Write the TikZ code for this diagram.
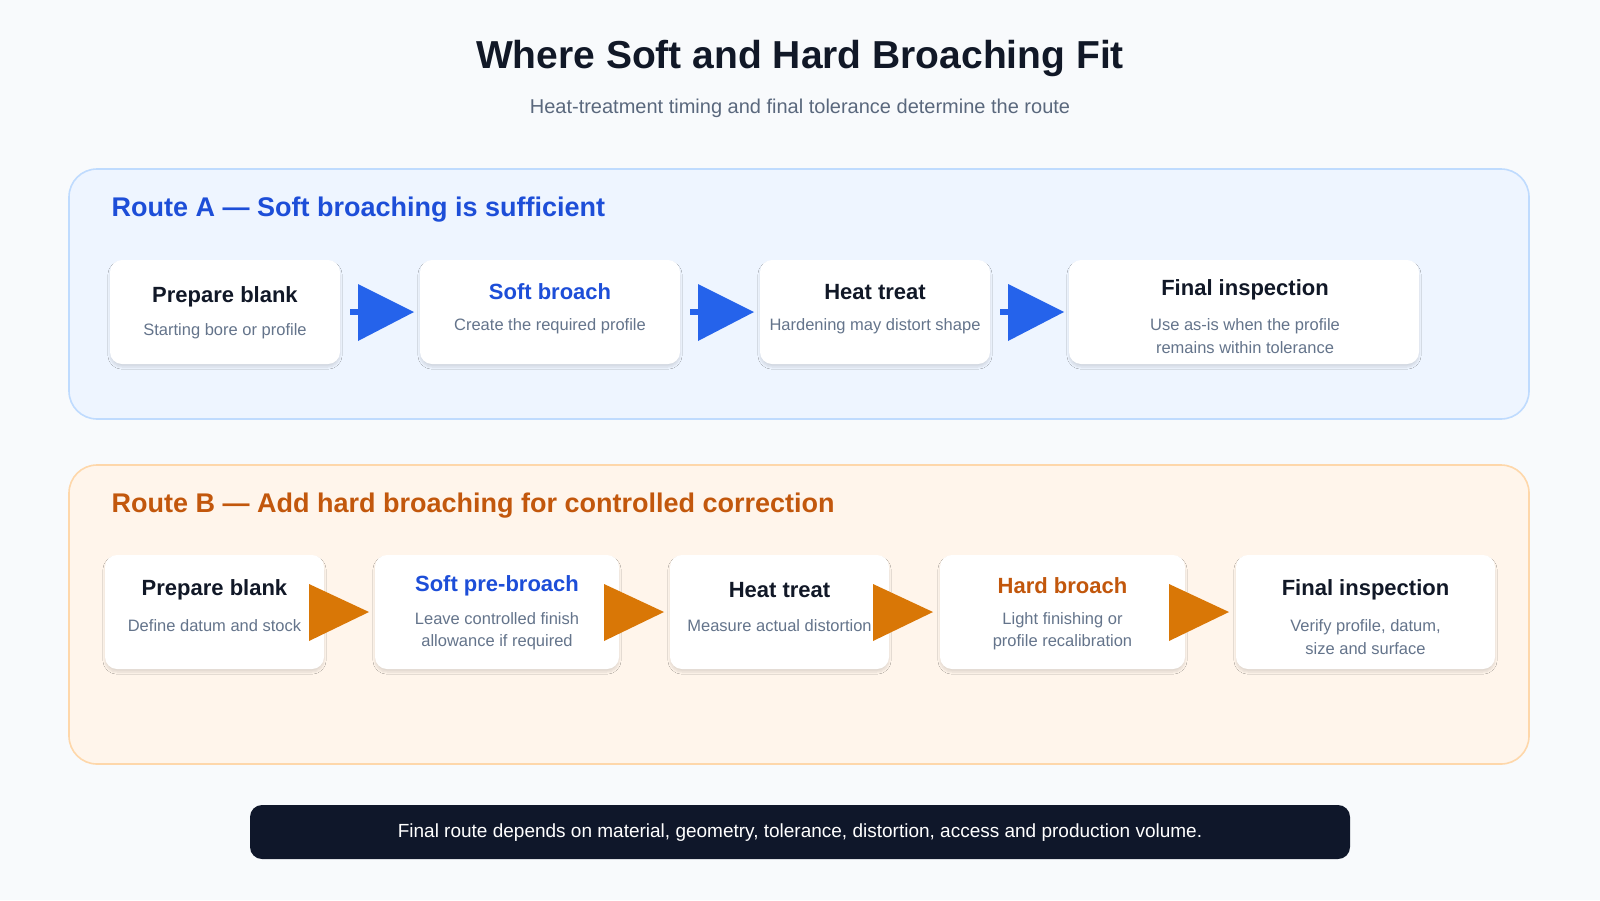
\documentclass[tikz,border=0pt]{standalone}
\usepackage{fontspec}
\setmainfont{Liberation Sans}
\usetikzlibrary{shadows.blur}
\definecolor{bg}{HTML}{F8FAFC}
\definecolor{ink}{HTML}{111827}
\definecolor{sub}{HTML}{64748B}
\definecolor{blu}{HTML}{1D4ED8}
\definecolor{bluA}{HTML}{2563EB}
\definecolor{bfill}{HTML}{EEF5FF}
\definecolor{bline}{HTML}{BFDBFE}
\definecolor{org}{HTML}{C2570C}
\definecolor{orgA}{HTML}{D97706}
\definecolor{ofill}{HTML}{FFF5EB}
\definecolor{oline}{HTML}{FED7AA}
\definecolor{dark}{HTML}{0F172A}
\tikzset{
 card/.style={fill=white,rounded corners=12,blur shadow={shadow blur steps=8,shadow xshift=0pt,shadow yshift=-3pt,shadow opacity=12}},
 ctitle/.style={font=\fontsize{22}{26}\selectfont\bfseries,text=ink},
 csub/.style={font=\fontsize{16.5}{22.5}\selectfont,text=sub,align=center},
 frame/.style={rounded corners=28,line width=1.6pt},
}
\newcommand{\card}[6]{\path[card] (#2) rectangle (#3);}
\begin{document}
\begin{tikzpicture}[x=1pt,y=-1pt]
\fill[bg] (0,0) rectangle (1600,900);
\node[font=\fontsize{39}{44}\selectfont\bfseries,text=ink] (title) at (800,58) {Where Soft and Hard Broaching Fit};
\node[font=\fontsize{20}{24}\selectfont,text=sub!90!black] (subt) at (800,108) {Heat-treatment timing and final tolerance determine the route};
% Route A
\path[frame,fill=bfill,draw=bline] (69,169) rectangle (1529,419);
\node[anchor=west,font=\fontsize{27}{32}\selectfont\bfseries,text=blu] (ta) at (108,210) {Route A — Soft broaching is sufficient};
\path[card] (110,260) rectangle (340,364);
\path[card] (420,260) rectangle (680,364);
\path[card] (760,260) rectangle (990,364);
\path[card] (1069,260) rectangle (1419,364);
\node[ctitle] (a1t) at (225,297) {Prepare blank};
\node[csub] (a1s) at (225,331) {Starting bore or profile};
\node[ctitle,text=blu] (a2t) at (550,292) {Soft broach};
\node[csub] (a2s) at (550,326) {Create the required profile};
\node[ctitle] (a3t) at (875,292) {Heat treat};
\node[csub] (a3s) at (875,326) {Hardening may distort shape};
\node[ctitle] (a4t) at (1245,290) {Final inspection};
\node[csub] (a4s) at (1245,336) {Use as-is when the profile\\remains within tolerance};
\foreach \x in {352,692,1002}{
 \fill[bluA] (\x-2,309) rectangle (\x+6,315);
 \fill[bluA] (\x+6,284) -- (\x+62,312) -- (\x+6,341) -- cycle;}
% Route B
\path[frame,fill=ofill,draw=oline] (69,465) rectangle (1529,764);
\node[anchor=west,font=\fontsize{27}{32}\selectfont\bfseries,text=org] (tb) at (108,506) {Route B — Add hard broaching for controlled correction};
\path[card] (105,555) rectangle (324,669);
\path[card] (375,555) rectangle (619,669);
\path[card] (670,555) rectangle (889,669);
\path[card] (940,555) rectangle (1185,669);
\path[card] (1236,555) rectangle (1495,669);
\node[ctitle] (b1t) at (214.5,590) {Prepare blank};
\node[csub] (b1s) at (214.5,626) {Define datum and stock};
\node[ctitle,text=blu] (b2t) at (497,586) {Soft pre-broach};
\node[csub] (b2s) at (497,631) {Leave controlled finish\\allowance if required};
\node[ctitle] (b3t) at (779.5,590) {Heat treat};
\node[csub] (b3s) at (779.5,626) {Measure actual distortion};
\node[ctitle,text=org] (b4t) at (1062.5,586) {Hard broach};
\node[csub] (b4s) at (1062.5,631) {Light finishing or\\profile recalibration};
\node[ctitle] (b5t) at (1365.5,590) {Final inspection};
\node[csub] (b5s) at (1365.5,637) {Verify profile, datum,\\size and surface};
\foreach \x in {309,604,873,1169}{
 \fill[orgA] (\x,584) -- (\x+60,612) -- (\x,641) -- cycle;}
% footer
\fill[dark,rounded corners=12] (250,805) rectangle (1350,859);
\node[font=\fontsize{19}{23}\selectfont,text=white] (foot) at (800,833) {Final route depends on material, geometry, tolerance, distortion, access and production volume.};
\end{tikzpicture}
\end{document}
